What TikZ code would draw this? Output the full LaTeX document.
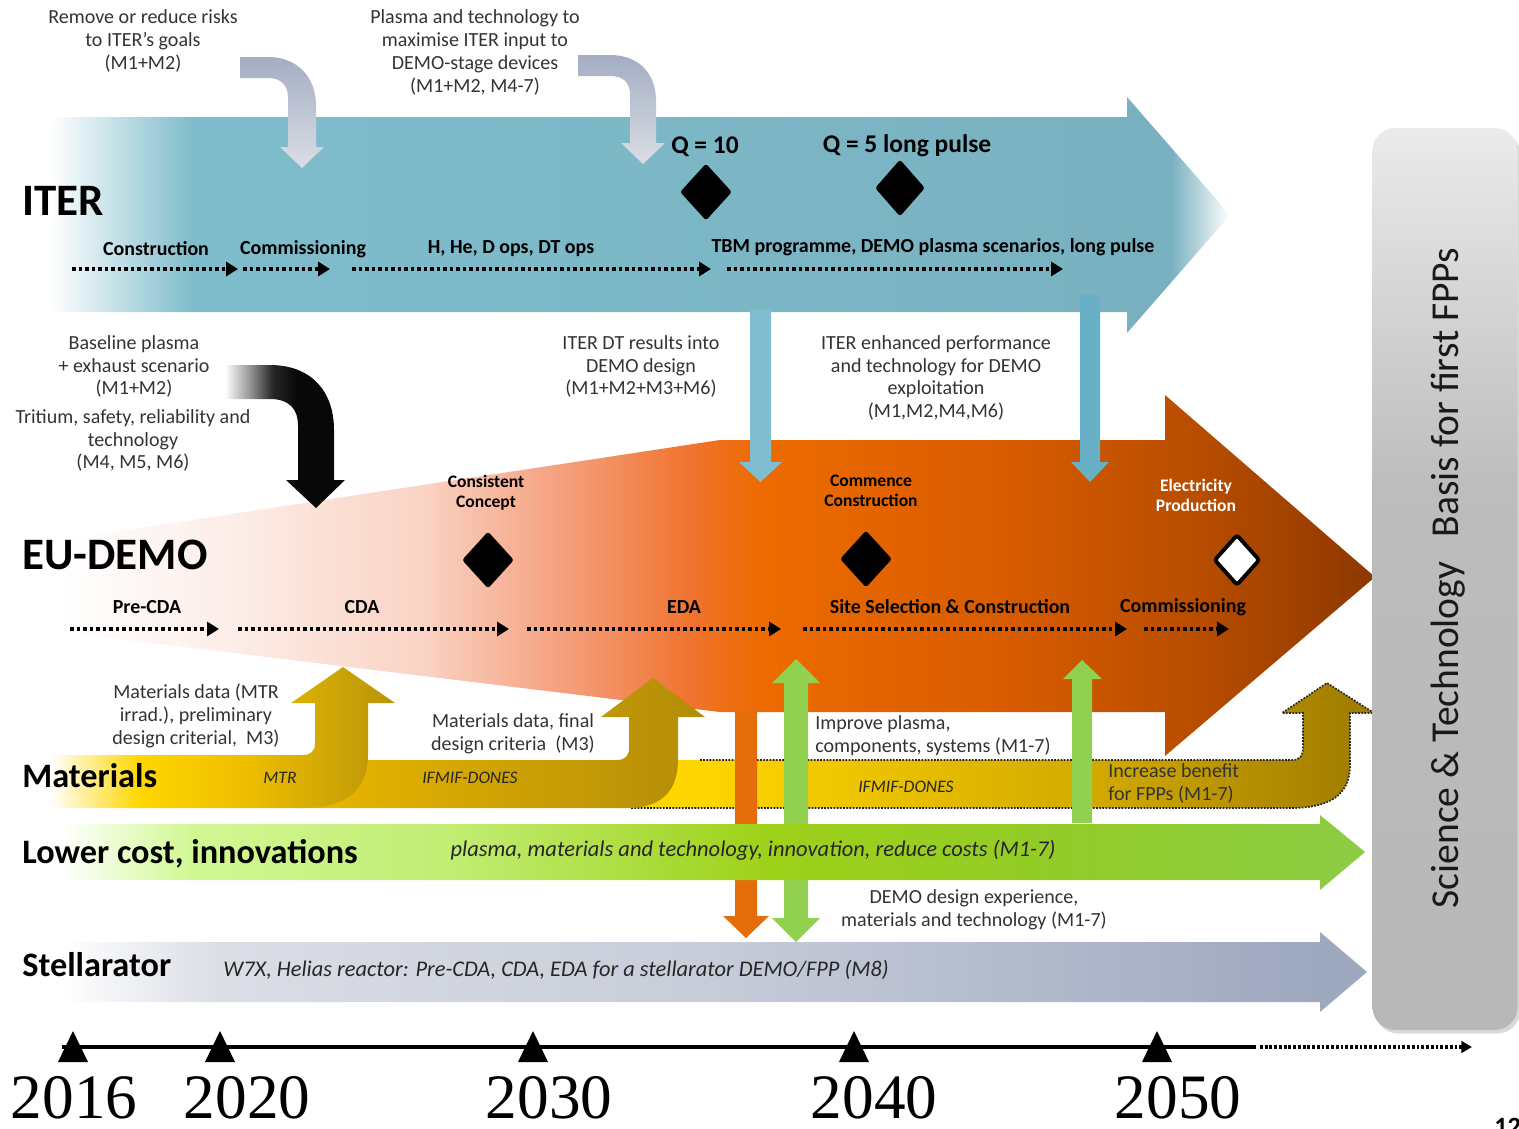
\documentclass[tikz,border=0pt]{standalone}
\usepackage{fontspec}
\setmainfont{Carlito}
\newfontfamily\yearfont{Liberation Serif}
\usetikzlibrary{arrows.meta,shapes.geometric,shadows}

\pgfdeclarehorizontalshading{iterS}{100bp}{rgb(0bp)=(1,1,1); rgb(25bp)=(1,1,1); rgb(31bp)=(0.50,0.74,0.80); rgb(50bp)=(0.49,0.72,0.78); rgb(72.5bp)=(0.47,0.69,0.75); rgb(75bp)=(1,1,1); rgb(100bp)=(1,1,1)}
\pgfdeclarehorizontalshading{demoS}{100bp}{rgb(0bp)=(1,1,1); rgb(25bp)=(1,1,1); rgb(31.5bp)=(0.99,0.93,0.91); rgb(38.7bp)=(0.98,0.83,0.77); rgb(44bp)=(0.96,0.63,0.50); rgb(49bp)=(0.94,0.45,0.18); rgb(51.6bp)=(0.93,0.42,0.0); rgb(60.7bp)=(0.85,0.36,0.0); rgb(68.3bp)=(0.72,0.30,0.0); rgb(75bp)=(0.55,0.22,0.0); rgb(100bp)=(0.55,0.22,0.0)}
\pgfdeclarehorizontalshading{matAS}{100bp}{rgb(0bp)=(1,1,1); rgb(25bp)=(1,1,1); rgb(38bp)=(1,0.84,0); rgb(54bp)=(0.93,0.74,0); rgb(75bp)=(0.72,0.58,0.04); rgb(100bp)=(0.72,0.58,0.04)}
\pgfdeclarehorizontalshading{matBS}{100bp}{rgb(0bp)=(0.92,0.72,0); rgb(25bp)=(0.92,0.72,0); rgb(75bp)=(0.70,0.55,0.03); rgb(100bp)=(0.70,0.55,0.03)}
\pgfdeclarehorizontalshading{matCS}{100bp}{rgb(0bp)=(1,0.84,0); rgb(30.3bp)=(1,0.84,0); rgb(56.8bp)=(0.82,0.66,0); rgb(75bp)=(0.62,0.48,0); rgb(100bp)=(0.62,0.48,0)}
\pgfdeclarehorizontalshading{lowS}{100bp}{rgb(0bp)=(1,1,1); rgb(25bp)=(1,1,1); rgb(30bp)=(0.82,0.97,0.58); rgb(40bp)=(0.76,0.93,0.45); rgb(52bp)=(0.62,0.82,0.10); rgb(62bp)=(0.58,0.80,0.15); rgb(75bp)=(0.55,0.80,0.27); rgb(100bp)=(0.55,0.80,0.27)}
\pgfdeclarehorizontalshading{stelS}{100bp}{rgb(0bp)=(1,1,1); rgb(25bp)=(1,1,1); rgb(31bp)=(0.86,0.87,0.90); rgb(50bp)=(0.78,0.80,0.85); rgb(73bp)=(0.62,0.66,0.75); rgb(100bp)=(0.62,0.66,0.75)}
\pgfdeclarehorizontalshading{blkS}{100bp}{rgb(0bp)=(1,1,1); rgb(25bp)=(1,1,1); rgb(35bp)=(0.6,0.6,0.6); rgb(45bp)=(0.15,0.15,0.15); rgb(55bp)=(0.03,0.03,0.03); rgb(100bp)=(0.03,0.03,0.03)}
\pgfdeclareverticalshading{boxS}{100bp}{rgb(0bp)=(0.72,0.72,0.72); rgb(25bp)=(0.72,0.72,0.72); rgb(55bp)=(0.74,0.74,0.74); rgb(75bp)=(0.92,0.92,0.92); rgb(100bp)=(0.92,0.92,0.92)}

\definecolor{blueA}{RGB}{128,189,208}
\definecolor{blueB}{RGB}{104,176,198}
\definecolor{greenA}{RGB}{146,208,80}
\definecolor{orangeA}{RGB}{228,108,10}
\definecolor{grayTop}{RGB}{163,173,194}
\definecolor{grayBot}{RGB}{219,222,230}

\tikzset{
 ann/.style={font=\fontsize{11.4}{13}\selectfont, align=center, text=black!80, inner sep=0},
 phl/.style={font=\bfseries\fontsize{11.35}{13}\selectfont, inner sep=0},
 big/.style={font=\bfseries\fontsize{25.6}{28}\selectfont, inner sep=0, anchor=west},
 mid/.style={font=\bfseries\fontsize{19.5}{22}\selectfont, inner sep=0, anchor=west},
 ms/.style={font=\bfseries\fontsize{10}{11.3}\selectfont, align=center, inner sep=0},
 itl/.style={font=\itshape\fontsize{12.8}{14}\selectfont, inner sep=0, text=black!85},
 its/.style={font=\itshape\fontsize{10}{12}\selectfont, inner sep=0, text=black!85},
 phase/.style={line width=2.27pt, dash pattern=on 2.2pt off 1.5pt, -{Triangle[length=6.8pt,width=8pt]}},
 mile/.style={diamond, fill=black, inner sep=0, minimum width=52*0.02cm, minimum height=57*0.02cm, rounded corners=1.5pt},
 years/.style={font=\yearfont\fontsize{36}{38}\selectfont, inner sep=0},
}

\begin{document}
\begin{tikzpicture}[x=0.02cm,y=-0.02cm]
\useasboundingbox (0,0) rectangle (1519,1129);

% ITER arrow
\shade[shading=iterS] (50,117) -- (1127,117) -- (1127,97) -- (1230,215) -- (1127,333) -- (1127,312) -- (50,312) -- cycle;

% gray bent arrows
\shade[top color=grayTop, bottom color=grayBot] (240,57) -- (268,57) .. controls (298,57) and (316,78) .. (316,105) -- (316,147) -- (324,147) -- (302,168) -- (280,147) -- (288,147) -- (288,98) .. controls (288,86) and (282,78) .. (268,78) -- (240,78) -- cycle;
\shade[top color=grayTop, bottom color=grayBot] (578,55) -- (610,55) .. controls (640,55) and (656,75) .. (656,100) -- (656,143) -- (665,143) -- (643,164) -- (621,143) -- (630,143) -- (630,95) .. controls (630,83) and (624,76) .. (610,76) -- (578,76) -- cycle;

% EU-DEMO arrow
\shade[shading=demoS] (60,540) -- (720,440) -- (1165,440) -- (1165,395) -- (1375,577) -- (1165,756) -- (1165,712) -- (720,712) -- (60,632) -- cycle;

% blue arrows ITER -> DEMO
\fill[blueA] (750,310) -- (771,310) -- (771,462) -- (782,462) -- (760.5,482) -- (739,462) -- (750,462) -- cycle;
\fill[blueB] (1080,295) -- (1100,295) -- (1100,462) -- (1109,462) -- (1090,482) -- (1071,462) -- (1080,462) -- cycle;

% black bent arrow
\shade[shading=blkS] (225,365) -- (270,365) .. controls (310,365) and (334,390) .. (334,430) -- (334,480) -- (345,480) -- (316,508) -- (286,480) -- (298,480) -- (298,425) .. controls (298,410) and (290,399) .. (270,399) -- (225,399) -- cycle;

% Materials bands
\shade[shading=matCS] (620,760) -- (1293,760) .. controls (1300,760) and (1303,755) .. (1303,748) -- (1303,713) -- (1282,713) -- (1327,683) -- (1374,713) -- (1350,713) -- (1350,765) .. controls (1350,795) and (1330,808) .. (1290,808) -- (620,808) -- cycle;
\draw[line width=1pt, dash pattern=on 1pt off 0.8pt, black!85] (700,760) -- (1293,760) .. controls (1300,760) and (1303,755) .. (1303,748) -- (1303,713) -- (1282,713) -- (1327,683) -- (1374,713) -- (1350,713) -- (1350,765) .. controls (1350,795) and (1330,808) .. (1290,808) -- (630,808);
\shade[shading=matBS] (300,760) -- (617,760) .. controls (625,760) and (629,756) .. (629,748) -- (629,717) -- (601,717) -- (653,678) -- (705,717) -- (678,717) -- (678,760) .. controls (678,792) and (660,808) .. (628,808) -- (300,808) -- cycle;
\shade[shading=matAS] (50,755) -- (303,755) .. controls (311,755) and (315,751) .. (315,743) -- (315,703) -- (291,703) -- (343,667) -- (395,703) -- (368,703) -- (368,755) .. controls (368,790) and (345,808) .. (305,808) -- (50,808) -- cycle;

% orange and green vertical arrows
\fill[orangeA] (735,712) -- (757,712) -- (757,916) -- (769,916) -- (746,938) -- (723,916) -- (735,916) -- cycle;
\fill[greenA] (784,683) -- (772,683) -- (796,659) -- (820,683) -- (808,683) -- (808,918) -- (820,918) -- (796,942) -- (772,918) -- (784,918) -- cycle;
\fill[greenA] (1072,823) -- (1072,679) -- (1063,679) -- (1082,660) -- (1102,679) -- (1092,679) -- (1092,823) -- cycle;

% Lower cost arrow
\shade[shading=lowS] (60,824) -- (1320,824) -- (1320,815) -- (1365,852) -- (1320,890) -- (1320,880) -- (60,880) -- cycle;
% Stellarator arrow
\shade[shading=stelS] (60,942) -- (1320,942) -- (1320,932) -- (1367,972) -- (1320,1012) -- (1320,1002) -- (60,1002) -- cycle;

% ---------- texts top ----------
\node[ann] (t1) at (143,41) {Remove or reduce risks\\to ITER’s goals\\(M1+M2)};
\node[ann] (t2) at (475,52.5) {Plasma and technology to\\maximise ITER input to\\DEMO-stage devices\\(M1+M2, M4-7)};

\node[big] (iter) at (22,201) {ITER};
\node[font=\bfseries\fontsize{14.5}{16}\selectfont, inner sep=0] (q10) at (705,147) {Q = 10};
\node[font=\bfseries\fontsize{14.5}{16}\selectfont, inner sep=0] (q5) at (907,146) {Q = 5 long pulse};
\node[mile] (d1) at (706,192) {};
\node[mile, minimum width=50*0.02cm] (d2) at (900,188) {};

\node[phl] (p1) at (156,249) {Construction};
\node[phl] (p2) at (303,249) {Commissioning};
\node[phl] (p3) at (511,249) {H, He, D ops, DT ops};
\node[phl] (p4) at (933,247) {TBM programme, DEMO plasma scenarios, long pulse};

\coordinate (ia1) at (72,269); \coordinate (ib1) at (238,269);
\coordinate (ia2) at (243,269); \coordinate (ib2) at (330,269);
\coordinate (ia3) at (352,269); \coordinate (ib3) at (711,269);
\coordinate (ia4) at (727,269); \coordinate (ib4) at (1063,269);
\draw[phase] (ia1) -- (ib1);
\draw[phase] (ia2) -- (ib2);
\draw[phase] (ia3) -- (ib3);
\draw[phase] (ia4) -- (ib4);

% ---------- middle texts ----------
\node[ann] (t3) at (134,366.5) {Baseline plasma\\+ exhaust scenario\\(M1+M2)};
\node[ann] (t4) at (133,440.5) {Tritium, safety, reliability and\\technology\\(M4, M5, M6)};
\node[ann] (t5) at (641,366.5) {ITER DT results into\\DEMO design\\(M1+M2+M3+M6)};
\node[ann] (t6) at (936,378) {ITER enhanced performance\\and technology for DEMO\\exploitation\\(M1,M2,M4,M6)};

\node[big] (demo) at (22,555) {EU-DEMO};
\node[ms] (m1) at (486,493) {Consistent\\Concept};
\node[ms] (m2) at (871,491) {Commence\\Construction};
\node[ms, text=white] (m3) at (1196,495) {Electricity\\Production};
\node[mile] (d3) at (488,560) {};
\node[mile] (d4) at (866,559) {};
\node[mile, fill=white, draw=black, line width=2.2pt, minimum width=46*0.02cm, minimum height=51*0.02cm] (d5) at (1237,560) {};

\node[phl] (q1) at (147,607) {Pre-CDA};
\node[phl] (q2) at (362,607) {CDA};
\node[phl] (q3) at (684,607) {EDA};
\node[phl] (q4) at (950,607) {Site Selection \& Construction};
\node[phl] (q5) at (1183,607) {Commissioning};

\coordinate (da1) at (70,629); \coordinate (db1) at (219,629);
\coordinate (da2) at (238,629); \coordinate (db2) at (509,629);
\coordinate (da3) at (527,629); \coordinate (db3) at (781,629);
\coordinate (da4) at (803,629); \coordinate (db4) at (1127,629);
\coordinate (da5) at (1144,629); \coordinate (db5) at (1229,629);
\draw[phase] (da1) -- (db1);
\draw[phase] (da2) -- (db2);
\draw[phase] (da3) -- (db3);
\draw[phase] (da4) -- (db4);
\draw[phase] (da5) -- (db5);

% ---------- materials texts ----------
\node[ann] (t7) at (196,716) {Materials data (MTR\\irrad.), preliminary\\design criterial,\ \ M3)};
\node[ann] (t8) at (513,733.5) {Materials data, final\\design criteria\ \ (M3)};
\node[ann, align=left, anchor=west] (t9) at (815,735.5) {Improve plasma,\\components, systems (M1-7)};
\node[ann, align=left, anchor=west] (t10) at (1108,783.5) {Increase benefit\\for FPPs (M1-7)};
\node[mid] (mat) at (22,776) {Materials};
\node[its] (mtr) at (280,778) {MTR};
\node[its] (if1) at (470,778) {IFMIF-DONES};
\node[its] (if2) at (906,787) {IFMIF-DONES};

\node[mid] (low) at (22,854) {Lower cost, innovations};
\node[itl] (lowt) at (753,850) {plasma, materials and technology, innovation, reduce costs (M1-7)};
\node[ann] (t11) at (974,909.5) {DEMO design experience,\\materials and technology (M1-7)};

\node[mid] (stel) at (22,965) {Stellarator};
\node[itl, anchor=west, font=\itshape\fontsize{12.75}{14}\selectfont] (stelt) at (223,970) {W7X, Helias reactor: Pre-CDA, CDA, EDA for a stellarator DEMO/FPP (M8)};

% ---------- right box ----------
\node[shading=boxS, rounded corners=13pt, minimum width=145*0.02cm, minimum height=902*0.02cm, inner sep=0,
      drop shadow={shadow xshift=1.5pt, shadow yshift=-2pt, opacity=0.3}] (sci) at (1445,579) {};
\node[rotate=90, font=\fontsize{22.5}{26}\selectfont, inner sep=0, text=black!90] (scit) at (1448,578) {Science \& Technology\hspace{0.4em} Basis for first FPPs};

% ---------- timeline ----------
\coordinate (tl0) at (62,1047);
\coordinate (tl1) at (1256,1047);
\coordinate (tl2) at (1260,1047);
\coordinate (tl3) at (1472,1047);
\draw[line width=2.8pt] (tl0) -- (tl1);
\draw[line width=2pt, dash pattern=on 1.6pt off 1.1pt, -{Triangle[length=6pt,width=6.5pt]}] (tl2) -- (tl3);
\foreach \xx in {73,220,533,854,1157}
  \fill (\xx-15,1062) -- (\xx,1031) -- (\xx+15,1062) -- cycle;

\node[years] (y1) at (74,1098) {2016};
\node[years] (y2) at (247,1098) {2020};
\node[years] (y3) at (549,1098) {2030};
\node[years] (y4) at (874,1098) {2040};
\node[years] (y5) at (1178,1098) {2050};
\node[font=\bfseries\fontsize{15}{15}\selectfont, inner sep=0, anchor=north west] (pg) at (1494,1118) {12};
\end{tikzpicture}
\end{document}
